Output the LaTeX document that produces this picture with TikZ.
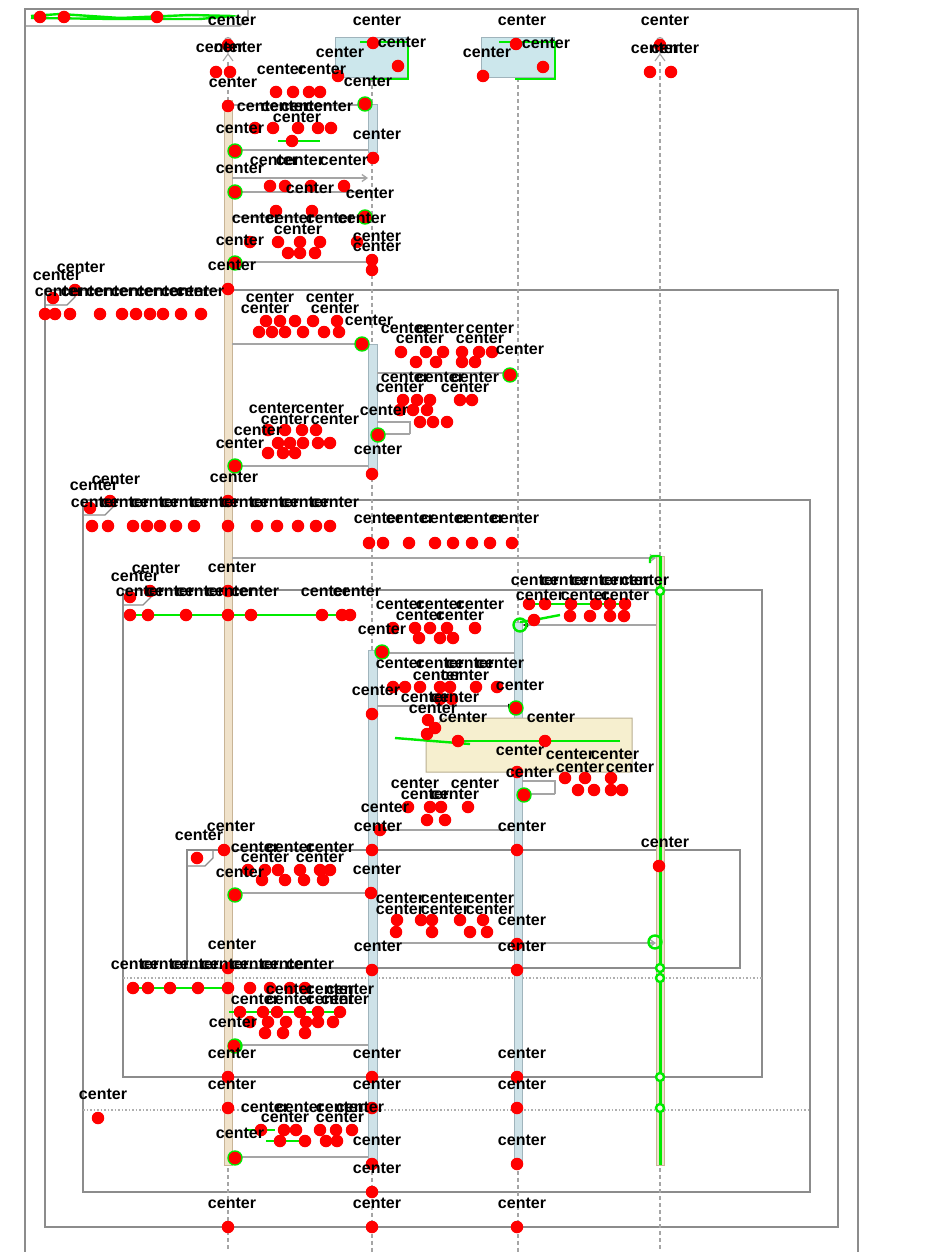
\documentclass[tikz,border=0pt]{standalone}
\usepackage{fontspec}
\newfontfamily\labfont{Liberation Sans}
\usetikzlibrary{arrows.meta}
\definecolor{framegray}{RGB}{140,140,140}
\definecolor{msggray}{RGB}{165,165,165}
\definecolor{lifegray}{RGB}{165,165,165}
\definecolor{beige}{RGB}{240,226,202}
\definecolor{beigeedge}{RGB}{200,180,150}
\definecolor{bluebar}{RGB}{206,226,232}
\definecolor{blueedge}{RGB}{160,180,188}
\definecolor{boxfill}{RGB}{204,231,236}
\definecolor{notefill}{RGB}{246,239,207}
\definecolor{noteedge}{RGB}{185,175,145}
\definecolor{neon}{RGB}{0,235,0}
\definecolor{dotred}{RGB}{255,0,0}
\tikzset{
  rdot/.style={circle, fill=dotred, inner sep=0pt, minimum size=12.5pt},
  clab/.style={font=\labfont\bfseries\fontsize{16}{16}\selectfont, inner sep=0pt, text=black},
  frm/.style={draw=framegray, line width=1.3pt},
  sepline/.style={draw=framegray!70, line width=1.2pt, dash pattern=on 1.5pt off 2pt},
  msg/.style={draw=msggray, line width=1.3pt},
  retmsg/.style={draw=msggray, line width=1.3pt, -{Latex[length=6pt,width=5pt,color=black]}},
  callmsg/.style={draw=msggray, line width=1.3pt, -{Straight Barb[length=5pt,width=7pt]}},
  life/.style={draw=lifegray, line width=1.3pt, dash pattern=on 4pt off 3pt},
  grn/.style={draw=neon, line width=2.4pt},
  headbox/.style={draw=blueedge, fill=boxfill, line width=1pt, minimum width=73pt, minimum height=40pt, inner sep=0pt},
  barone/.style={draw=beigeedge, fill=beige, line width=0.8pt},
  bartwo/.style={draw=blueedge, fill=bluebar, line width=0.8pt},
  actor/.style={draw=lifegray, line width=1.1pt},
}
\begin{document}
\begin{tikzpicture}[x=1pt,y=-1pt]
\path[use as bounding box, fill=white] (0,0) rectangle (929,1252);

% ---------- outer frame and nested frames ----------
\draw[frm] (25,1252) -- (25,9) -- (858,9) -- (858,1252);
\draw[frm] (25,26) -- (240,26) -- (248,18) -- (248,9);
\draw[frm] (45,290) rectangle (838,1227);
\draw[frm] (45,305) -- (67,305) -- (75,297) -- (75,290);
\draw[frm] (83,500) rectangle (810,1192);
\draw[frm] (83,515) -- (105,515) -- (113,507) -- (113,500);
\draw[sepline] (83,1110) -- (810,1110);
\draw[frm] (123,590) rectangle (762,1077);
\draw[frm] (123,605) -- (143,605) -- (151,597) -- (151,590);
\draw[sepline] (123,978) -- (762,978);
\draw[frm] (187,850) rectangle (740,968);
\draw[frm] (187,866) -- (205,866) -- (213,858) -- (213,850);

% ---------- lifeline heads ----------
\coordinate (h1) at (228,62);
\coordinate (h4) at (660,62);
\node[headbox] (h2) at (372,58) {};
\node[headbox] (h3) at (518,58) {};
\foreach \ax in {228,660}{
  \draw[actor] (\ax,41) circle (3.5pt);
  \draw[actor] (\ax,45) -- (\ax,54) (\ax-6,48) -- (\ax+6,48) (\ax-5,61) -- (\ax,54) -- (\ax+5,61);
}
\coordinate (e1) at (228,1252);
\coordinate (e2) at (372,1252);
\coordinate (e3) at (518,1252);
\coordinate (e4) at (660,1252);
\draw[life] (h1) -- (e1);
\draw[life] (h2.south) -- (e2);
\draw[life] (h3.south) -- (e3);
\draw[life] (h4) -- (e4);

% ---------- activation bars ----------
\draw[barone] (224,100) rectangle (232,1165);
\draw[bartwo] (368,104) rectangle (377,152);
\draw[bartwo] (368,344) rectangle (377,470);
\draw[bartwo] (368,650) rectangle (377,1165);
\draw[bartwo] (514,622) rectangle (522,1165);
\draw[barone] (656,556) rectangle (664,1165);

\coordinate (b1) at (232,0);
\coordinate (b2l) at (368,0);
\coordinate (b2r) at (377,0);
\coordinate (b3l) at (514,0);
\coordinate (b3r) at (522,0);
\coordinate (b4l) at (656,0);
\coordinate (b4r) at (664,0);

% ---------- messages ----------
\draw[callmsg] (b1 |- 0,105) -- (b2l |- 0,105);
\draw[retmsg] (b2l |- 0,150) -- (b1 |- 0,150);
\draw[callmsg] (b1 |- 0,178) -- (b2l |- 0,178);
\draw[retmsg] (b2l |- 0,192) -- (b1 |- 0,192);
\draw[callmsg] (b1 |- 0,217) -- (b2l |- 0,217);
\draw[retmsg] (b2l |- 0,262) -- (b1 |- 0,262);
\draw[callmsg] (b1 |- 0,344) -- (b2l |- 0,344);
\draw[retmsg] (b2l |- 0,466) -- (b1 |- 0,466);
\draw[callmsg] (b2r |- 0,373) -- (b3l |- 0,373);
\draw[msg] (b2r |- 0,422) -- (410,422) -- (410,434);
\draw[retmsg] (410,434) -- (b2r |- 0,434);
\draw[callmsg] (b1 |- 0,558) -- (b4l |- 0,558);
\draw[retmsg] (b4l |- 0,625) -- (b3r |- 0,625);
\draw[callmsg] (b3l |- 0,653) -- (b2r |- 0,653);
\draw[retmsg] (b2r |- 0,706) -- (b3l |- 0,706);
\draw[msg] (b3r |- 0,781) -- (555,781) -- (555,794);
\draw[retmsg] (555,794) -- (b3r |- 0,794);
\draw[retmsg] (b3l |- 0,830) -- (b2r |- 0,830);
\draw[retmsg] (b2l |- 0,893) -- (b1 |- 0,893);
\draw[callmsg] (b2r |- 0,943) -- (b4l |- 0,943);
\draw[retmsg] (b2l |- 0,1045) -- (b1 |- 0,1045);
\draw[retmsg] (b2l |- 0,1157) -- (b1 |- 0,1157);

% ---------- note ----------
\draw[draw=noteedge, fill=notefill, line width=1pt] (426,735) -- (444,718) -- (632,718) -- (632,772) -- (426,772) -- cycle;

% ---------- green strokes ----------
\draw[grn, rounded corners=2pt] (31,16) -- (60,14) -- (120,18) -- (190,15) -- (232,16) -- (200,19) -- (120,19) -- (31,18);
\draw[grn] (360,42) -- (408,42) -- (408,79) -- (370,79);
\draw[grn] (499,42) -- (555,42) -- (555,79) -- (515,79);
\draw[grn, line width=3pt] (660,556) -- (660,1165);
\draw[grn, rounded corners=3pt] (650,563) -- (650,556) -- (660,556);
\foreach \gy in {591,968,978,1077,1108}{ \draw[grn, fill=white!60!beige] (660,\gy) circle (4pt); }
\foreach \gx/\gy in {235/151,235/192,235/263,235/466,235/895,235/1046,235/1158,378/435,516/708,524/795,382/652,365/104,365/217,362/344,510/375,520/625,655/942}{
  \draw[grn] (\gx,\gy) circle (6.5pt);
}
\draw[grn] (278,141) -- (320,141);
\draw[grn] (462,741) -- (620,741);
\draw[grn] (395,738) -- (470,744);
\draw[grn] (130,615) -- (350,615);
\draw[grn] (133,988) -- (228,988);
\draw[grn] (229,1012) -- (340,1012);
\draw[grn] (530,604) -- (625,604);
\draw[grn] (520,622) -- (534,620) -- (560,615);
\draw[grn] (245,1130) -- (275,1130);
\draw[grn] (266,1141) -- (300,1141);

% ---------- red dots ----------
\foreach \dx/\dy [count=\i] in {
40/17,64/17,157/17,
228/45,373/43,398/66,338/76,516/44,543/67,483/76,660/45,
216/72,230/72,650/72,671/72,
276/92,293/92,309/92,320/92,
228/106,365/104,
255/128,273/128,298/128,318/128,331/128,
292/141,235/151,373/158,
270/186,285/186,311/186,344/186,235/192,
276/211,312/211,365/217,
250/242,278/242,300/242,320/242,357/242,
288/253,300/253,315/253,
235/263,372/260,372/270,
75/290,53/298,228/289,
45/314,55/314,70/314,100/314,122/314,136/314,150/314,163/314,181/314,201/314,
266/321,280/321,295/321,313/321,337/321,
259/332,272/332,285/332,303/332,324/332,339/332,
362/344,
401/352,426/352,443/352,462/352,479/352,492/352,
416/362,436/362,462/362,475/362,
510/375,
403/400,417/400,430/400,460/400,472/400,
400/410,413/410,427/410,
420/422,433/422,447/422,
378/435,372/474,
268/430,285/430,302/430,316/430,
278/443,290/443,303/443,318/443,330/443,
268/453,283/453,295/453,
235/466,
90/508,110/501,228/501,
92/526,108/526,133/526,147/526,160/526,176/526,194/526,228/526,257/526,277/526,298/526,316/526,330/526,
369/543,383/543,409/543,435/543,453/543,472/543,490/543,512/543,
130/597,150/591,228/591,
130/615,148/615,186/615,228/615,251/615,322/615,342/615,350/615,
529/604,545/604,571/604,596/604,610/604,625/604,
534/620,570/616,590/616,610/616,624/616,
393/628,415/628,430/628,447/628,475/628,
419/638,440/638,453/638,
382/652,
393/687,405/687,420/687,440/687,450/687,476/687,497/687,
440/699,452/699,
516/708,372/714,
428/720,435/728,427/734,458/741,545/741,
517/772,
565/778,585/778,611/778,
578/790,594/790,611/790,622/790,
524/795,
408/807,430/807,441/807,468/807,
427/820,445/820,
380/830,
197/858,224/850,372/850,517/850,659/866,
248/870,265/870,278/870,300/870,320/870,330/870,
262/880,285/880,304/880,323/880,
235/895,371/893,
397/920,421/920,432/920,460/920,483/920,
396/932,432/932,470/932,487/932,
517/944,
228/968,372/970,517/970,
133/988,148/988,170/988,198/988,228/988,250/988,270/988,290/988,305/988,
240/1012,263/1012,277/1012,300/1012,318/1012,340/1012,
250/1022,268/1022,286/1022,306/1022,318/1022,333/1022,
265/1033,283/1033,305/1033,
234/1046,
228/1077,372/1077,517/1077,
98/1118,
228/1108,372/1108,517/1108,
261/1130,284/1130,296/1130,320/1130,336/1130,352/1130,
280/1141,305/1141,326/1141,337/1141,
235/1158,372/1164,517/1164,
372/1192,
228/1227,372/1227,517/1227}{
  \node[rdot] (r\i) at (\dx,\dy) {};
}

% ---------- "center" labels ----------
\foreach \lx/\ly [count=\j] in {
232/20,377/20,522/20,665/20,
220/47,238/47,402/42,340/52,546/43,487/52,655/48,675/48,
233/82,368/81,281/69,322/69,
261/106,285/106,305/106,329/106,297/117,240/128,377/134,
240/168,274/160,300/160,344/160,310/188,370/193,
256/218,290/218,330/218,362/218,298/229,
240/240,377/236,377/246,232/265,
81/267,57/275,
59/291,85/291,110/291,135/291,160/291,185/291,200/291,
270/297,330/297,265/308,335/308,369/320,
405/328,440/328,490/328,420/338,480/338,520/349,
405/377,440/377,475/377,400/387,465/387,384/410,378/449,
273/408,320/408,285/419,335/419,258/430,240/443,234/477,
116/479,94/485,
95/502,125/502,155/502,185/502,215/502,245/502,275/502,305/502,335/502,
378/518,410/518,445/518,480/518,515/518,
232/567,156/568,135/576,
140/591,170/591,200/591,230/591,255/591,325/591,357/591,
535/580,565/580,595/580,625/580,645/580,540/595,585/595,625/595,
400/604,440/604,480/604,420/615,460/615,382/629,
400/663,440/663,470/663,500/663,437/675,465/675,376/690,520/685,
425/697,455/697,433/708,463/717,551/717,
520/750,570/754,615/754,580/767,630/767,530/772,
415/783,475/783,425/794,455/794,385/807,
231/826,378/826,522/826,199/835,665/842,
255/847,290/847,330/847,265/857,320/857,240/872,377/869,
400/898,445/898,490/898,400/909,445/909,490/909,522/920,
232/944,378/946,522/946,
135/964,165/964,195/964,225/964,255/964,285/964,310/964,
290/989,330/989,350/989,255/999,290/999,330/999,345/999,233/1022,
232/1053,377/1053,522/1053,232/1084,377/1084,522/1084,
103/1094,
265/1107,300/1107,340/1107,360/1107,285/1117,340/1117,240/1133,
377/1140,522/1140,377/1168,
232/1203,377/1203,522/1203}{
  \node[clab] (c\j) at (\lx,\ly) {center};
}
\end{tikzpicture}
\end{document}
